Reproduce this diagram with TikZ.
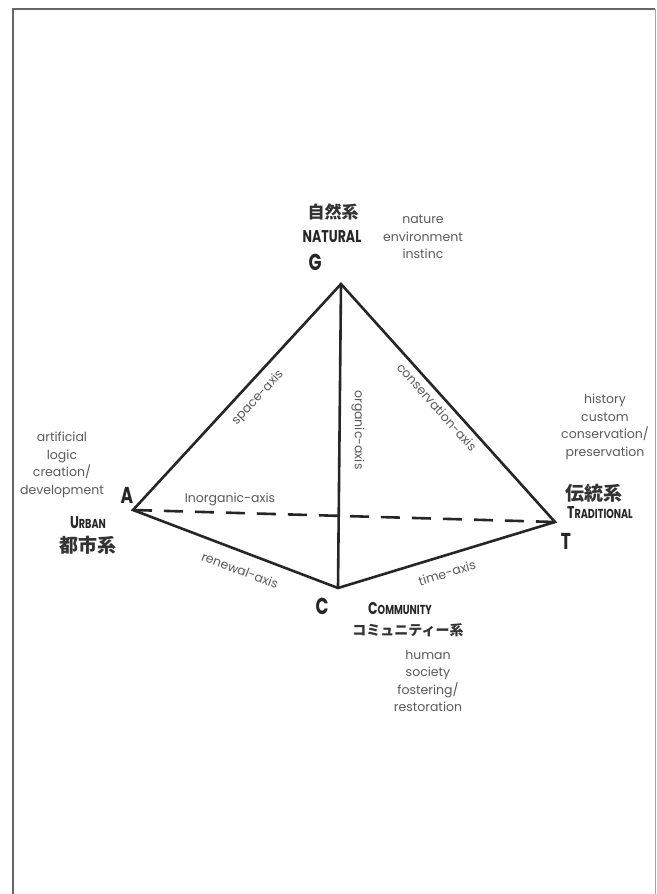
\documentclass[tikz,border=0pt]{standalone}
\usepackage{fontspec}
\setmainfont{Poppins}
\newfontfamily\headfont[FakeStretch=0.74]{Poppins}
\newfontfamily\cjk{Noto Sans CJK JP}
\usetikzlibrary{positioning}

\begin{document}
\begin{tikzpicture}[
        x=1pt, y=-1pt,
        axis/.style={line width=2.6pt, draw=black!85},
        axislabel/.style={font=\fontsize{12.5}{14}\selectfont, text=black!65, inner sep=1pt},
        corner/.style={font=\headfont\fontsize{23}{24}\bfseries\selectfont, text=black!85, inner sep=0pt},
        system/.style={font=\headfont\fontsize{17}{19}\bfseries\selectfont, text=black!85, inner sep=0pt},
        kanji/.style={font=\cjk\fontsize{19}{21}\bfseries\selectfont, text=black!80, inner sep=0pt},
        keywords/.style={font=\fontsize{12.5}{17.5}\selectfont, text=black!65, align=center, inner sep=0pt},
    ]
        \newcommand\smallcap[1]{{\fontsize{13}{15}\selectfont #1}}
        \useasboundingbox (0,0) rectangle (656,894);

        % Frame
        \draw[line width=1.4pt, black!60] (13,894) -- (13,9) -- (655,9);
        \draw[line width=0.7pt, black!35] (655,9) -- (655,894);

        % Vertices
        \coordinate (G) at (341,284);
        \coordinate (A) at (133,510);
        \coordinate (T) at (555,522);
        \coordinate (C) at (338,588);

        % Edges
        \draw[axis, dash pattern=on 19pt off 12pt] (A) -- (T);
        \draw[axis, line join=miter] (A) -- (G) -- (T) -- (C) -- cycle;
        \draw[axis] (G) -- (C);

        % Axis labels
        \node[axislabel, rotate=47.5] (space) at (258,398) {space-axis};
        \node[axislabel, rotate=-90] (organic) at (358,430) {organic-axis};
        \node[axislabel, rotate=-48.3] (conserv) at (437,407) {conservation-axis};
        \node[axislabel] (inorganic) at (230,499) {Inorganic-axis};
        \node[axislabel, rotate=-20.8] (renewal) at (240,570) {renewal-axis};
        \node[axislabel, rotate=16.7] (time) at (447,573) {time-axis};

        % Natural
        \node[corner] (Glabel) at (315,262) {G};
        \node[system] (natural) at (332,237) {NATURAL};
        \node[kanji, font=\cjk\fontsize{17}{19}\bfseries\selectfont] (natkanji) at (333,212) {自然系};
        \node[keywords] (natkeys) at (423,237) {nature\\environment\\instinc};

        % Urban
        \node[corner] (Alabel) at (127,495) {A};
        \node[system] (urban) at (88,523) {U\smallcap{RBAN}};
        \node[kanji] (urbkanji) at (88,545) {都市系};
        \node[keywords] (urbkeys) at (62,465) {artificial\\logic\\creation/\\development};

        % Traditional
        \node[corner] (Tlabel) at (566,541) {T};
        \node[system] (traditional) at (600,513) {T\smallcap{RADITIONAL}};
        \node[kanji] (tradkanji) at (594,493) {伝統系};
        \node[keywords] (tradkeys) at (605,427) {history\\custom\\conservation/\\preservation};

        % Community
        \node[corner] (Clabel) at (322,606) {C};
        \node[system] (community) at (400,609) {C\smallcap{OMMUNITY}};
        \node[kanji, font=\cjk\fontsize{14}{16}\bfseries\selectfont] (comkanji) at (408,630) {コミュニティー系};
        \node[keywords] (comkeys) at (428,681) {human\\society\\fostering/\\restoration};
    \end{tikzpicture}
\end{document}
